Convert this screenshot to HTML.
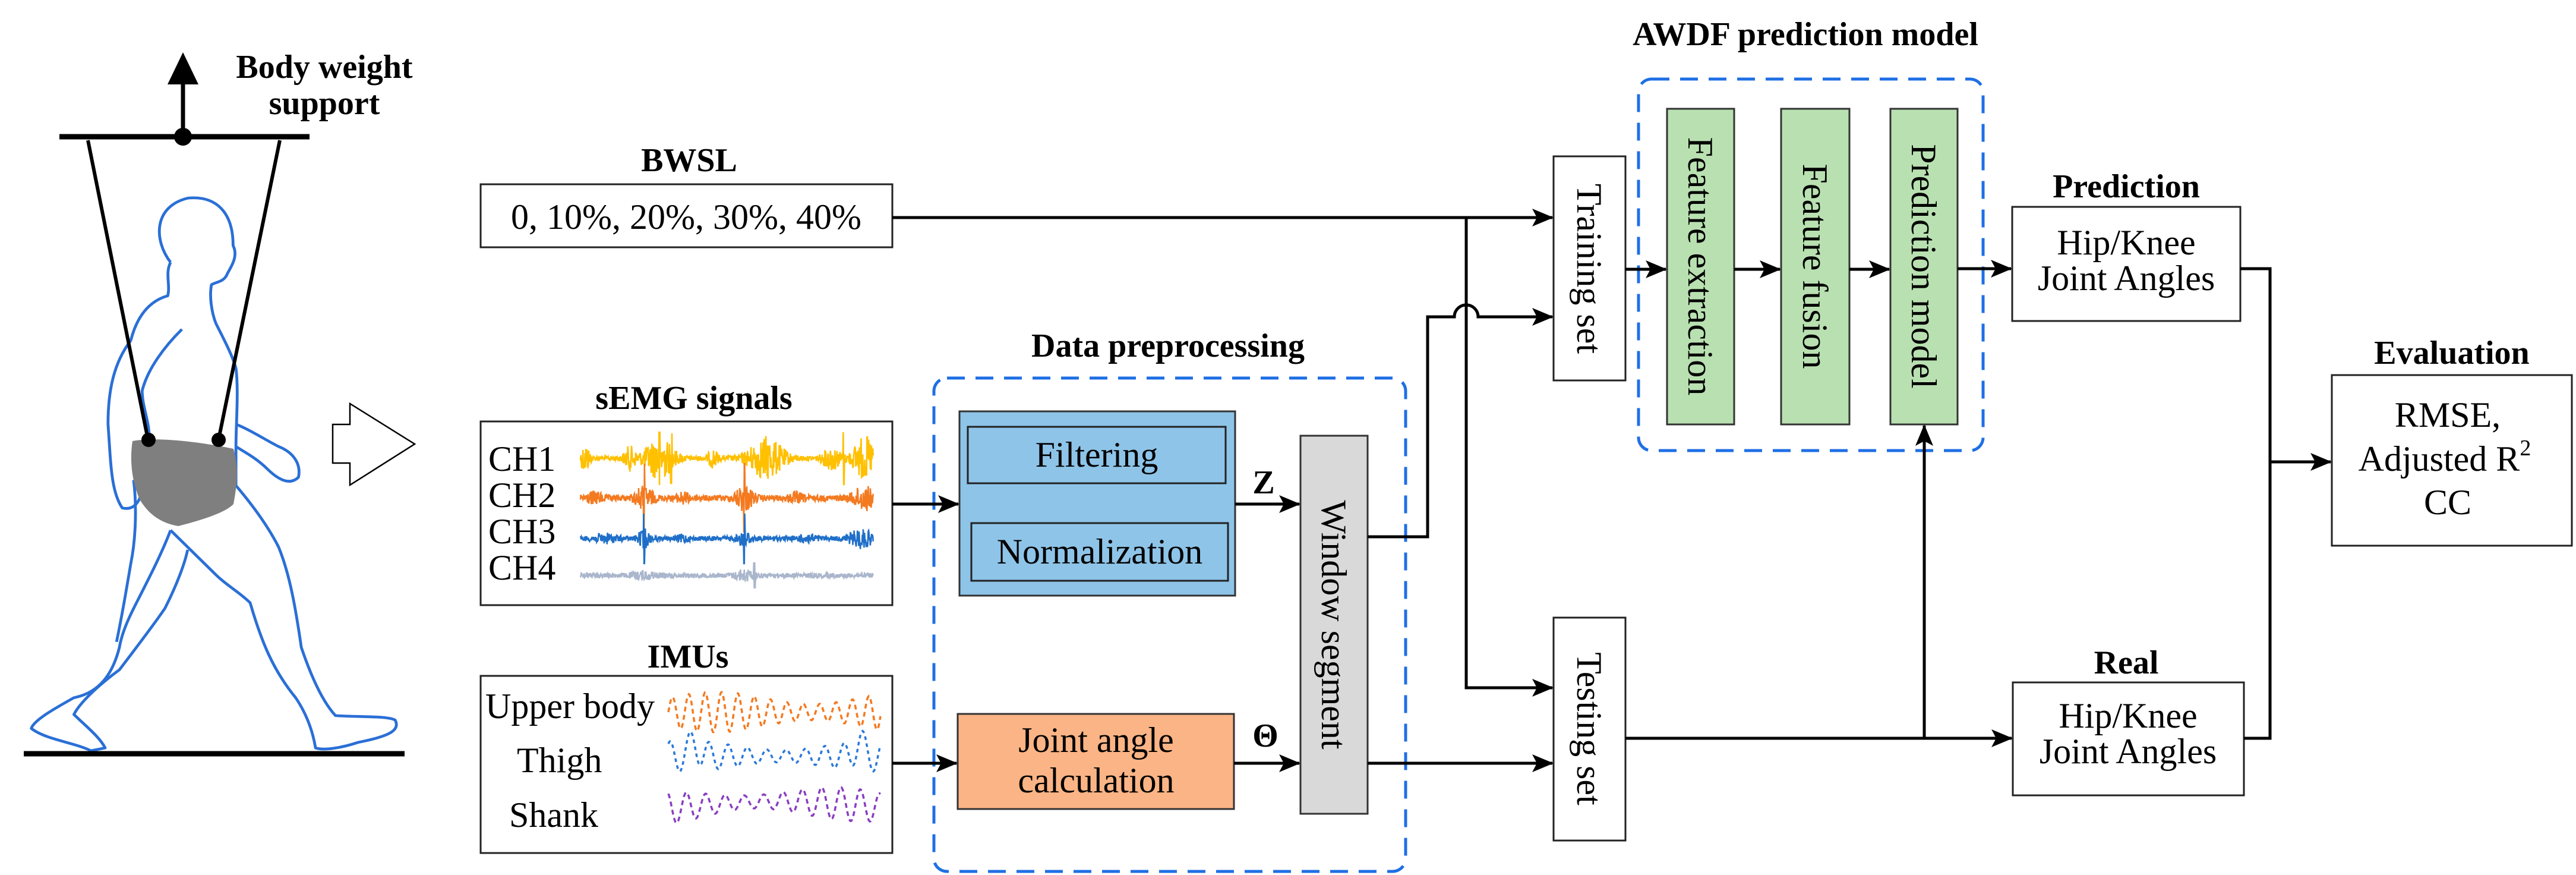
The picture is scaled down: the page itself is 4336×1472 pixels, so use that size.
<!DOCTYPE html>
<html><head><meta charset="utf-8"><style>
html,body{margin:0;padding:0;background:#fff;}
svg{display:block;}
text{font-family:"Liberation Serif","Noto Serif CJK SC","DejaVu Serif",serif;fill:#000;}
.b{font-weight:bold;font-size:56px;}
.t{font-weight:normal;font-size:60px;}
</style></head><body>
<svg id="s" width="4336" height="1472" viewBox="0 0 4336 1472" xmlns="http://www.w3.org/2000/svg">
<defs>
<marker id="a" markerUnits="userSpaceOnUse" markerWidth="36" markerHeight="30" refX="34" refY="15" orient="auto"><path d="M0,0 L36,15 L0,30 L8,15 Z" fill="#000"/></marker>
</defs>

<line x1="308" y1="230" x2="308" y2="120" stroke="#000" stroke-width="7"/>
<polygon points="308,88 282,142 334,142" fill="#000"/>
<line x1="100" y1="230" x2="521" y2="230" stroke="#000" stroke-width="9"/>
<circle cx="308" cy="230" r="15" fill="#000"/>
<text class="b" x="546" y="131" text-anchor="middle">Body weight</text>
<text class="b" x="546" y="192" text-anchor="middle">support</text>
<g transform="scale(0.957 0.939)" fill="none" stroke="#2a6fd6" stroke-width="5" stroke-linejoin="round">
<path d="M300,470 C270,430 270,370 330,355 C380,350 410,380 410,440 C420,460 405,480 400,490 C395,505 380,505 372,510 C368,530 372,560 380,580 C395,610 410,640 415,660 C420,700 415,760 415,800 L415,870 C440,900 470,940 490,980 C510,1030 520,1090 530,1160 C550,1220 570,1260 590,1282 C630,1285 680,1282 695,1290 C705,1310 680,1320 630,1330 C600,1340 570,1345 555,1340 C550,1310 540,1280 520,1250 C480,1200 460,1150 440,1080 C420,1060 400,1050 380,1030 C350,1000 320,970 300,950"/>
<path d="M415,760 C440,770 470,790 490,800 C515,810 530,830 525,855 C510,870 490,860 470,840 C450,820 430,810 415,800"/>
<path d="M300,470 C290,490 300,510 295,530 C260,540 240,570 230,610 C200,650 190,700 190,760 C195,830 195,880 215,910 C235,915 245,900 250,880"/>
<path d="M320,590 C290,620 260,660 250,700 C250,730 265,760 262,790"/>
<path d="M300,950 C285,990 265,1030 240,1080 C230,1100 215,1130 210,1160 C200,1200 180,1240 130,1250 C95,1270 60,1290 55,1305 C80,1325 130,1330 160,1345 L185,1340 C175,1320 150,1300 130,1280 C140,1260 170,1230 210,1200 C240,1160 270,1120 290,1090 C310,1050 325,1010 330,985"/>
<path d="M235,860 C240,900 240,960 230,1010 C220,1070 215,1100 205,1150"/>
</g>
<path d="M223,742 C262,735 330,742 393,755 C403,790 398,820 393,848 C380,862 340,875 300,885 C270,880 250,865 235,840 C222,810 218,775 223,742 Z" fill="#7f7f7f"/>
<line x1="148" y1="236" x2="249" y2="739" stroke="#000" stroke-width="6"/>
<line x1="471" y1="236" x2="368" y2="739" stroke="#000" stroke-width="6"/>
<circle cx="250" cy="740" r="12" fill="#000"/>
<circle cx="368" cy="740" r="12" fill="#000"/>
<line x1="40" y1="1268" x2="681" y2="1268" stroke="#000" stroke-width="9"/>
<polygon points="560,714 589,714 589,679 698,747 589,816 589,779 560,779" fill="#fff" stroke="#000" stroke-width="2.5"/>

<text class="b" x="1160" y="288" text-anchor="middle">BWSL</text>
<rect x="809" y="310" width="693" height="106" fill="#fff" stroke="#222" stroke-width="3"/>
<text class="t" x="1155" y="385" text-anchor="middle">0, 10%, 20%, 30%, 40%</text>

<text class="b" x="1168" y="688" text-anchor="middle">sEMG signals</text>
<rect x="809" y="709" width="693" height="309" fill="#fff" stroke="#222" stroke-width="3"/>
<text class="t" x="822" y="792">CH1</text>
<text class="t" x="822" y="853">CH2</text>
<text class="t" x="822" y="914">CH3</text>
<text class="t" x="822" y="975">CH4</text>
<g id="emg"></g>

<text class="b" x="1158" y="1123" text-anchor="middle">IMUs</text>
<rect x="809" y="1137" width="693" height="298" fill="#fff" stroke="#222" stroke-width="3"/>
<text class="t" x="817" y="1208">Upper body</text>
<text class="t" x="870" y="1299">Thigh</text>
<text class="t" x="857" y="1391">Shank</text>
<g id="imu"></g>

<text class="b" x="1966" y="600" text-anchor="middle">Data preprocessing</text>
<rect x="1572" y="636" width="794" height="830" rx="22" fill="none" stroke="#1f6fe5" stroke-width="5" stroke-dasharray="30 18"/>
<rect x="1615" y="692" width="464" height="310" fill="#8ec4e8" stroke="#333" stroke-width="3"/>
<rect x="1629" y="718" width="434" height="95" fill="none" stroke="#222" stroke-width="3"/>
<rect x="1635" y="880" width="432" height="97" fill="none" stroke="#222" stroke-width="3"/>
<text class="t" x="1846" y="785" text-anchor="middle">Filtering</text>
<text class="t" x="1851" y="948" text-anchor="middle">Normalization</text>
<rect x="1612" y="1201" width="465" height="160" fill="#fbb485" stroke="#333" stroke-width="3"/>
<text class="t" x="1845" y="1265" text-anchor="middle">Joint angle</text>
<text class="t" x="1845" y="1333" text-anchor="middle">calculation</text>
<rect x="2189" y="733" width="113" height="636" fill="#d9d9d9" stroke="#333" stroke-width="3"/>
<text class="t" transform="translate(2245,1051) rotate(90)" text-anchor="middle" dy="20">Window segment</text>
<text class="b" x="2127" y="830" text-anchor="middle" font-size="60">Z</text>
<text class="b" x="2130" y="1256" text-anchor="middle" font-size="58">Θ</text>

<rect x="2615" y="263" width="121" height="377" fill="#fff" stroke="#222" stroke-width="3"/>
<text class="t" transform="translate(2675,452) rotate(90)" text-anchor="middle" dy="20">Training set</text>
<rect x="2615" y="1039" width="121" height="375" fill="#fff" stroke="#222" stroke-width="3"/>
<text class="t" transform="translate(2675,1226) rotate(90)" text-anchor="middle" dy="20">Testing set</text>

<text class="b" x="3039" y="76" text-anchor="middle">AWDF prediction model</text>
<rect x="2758" y="133" width="580" height="625" rx="22" fill="none" stroke="#1f6fe5" stroke-width="5" stroke-dasharray="30 18"/>
<rect x="2806" y="183" width="113" height="531" fill="#b9e0b1" stroke="#333" stroke-width="3"/>
<text class="t" transform="translate(2862,448) rotate(90)" text-anchor="middle" dy="20">Feature extraction</text>
<rect x="2998" y="183" width="115" height="531" fill="#b9e0b1" stroke="#333" stroke-width="3"/>
<text class="t" transform="translate(3055,448) rotate(90)" text-anchor="middle" dy="20">Feature fusion</text>
<rect x="3182" y="183" width="113" height="531" fill="#b9e0b1" stroke="#333" stroke-width="3"/>
<text class="t" transform="translate(3238,448) rotate(90)" text-anchor="middle" dy="20">Prediction model</text>

<text class="b" x="3579" y="332" text-anchor="middle">Prediction</text>
<rect x="3387" y="348" width="384" height="192" fill="#fff" stroke="#222" stroke-width="3"/>
<text class="t" x="3579" y="428" text-anchor="middle">Hip/Knee</text>
<text class="t" x="3579" y="488" text-anchor="middle">Joint Angles</text>
<text class="b" x="3579" y="1133" text-anchor="middle">Real</text>
<rect x="3388" y="1148" width="389" height="190" fill="#fff" stroke="#222" stroke-width="3"/>
<text class="t" x="3582" y="1224" text-anchor="middle">Hip/Knee</text>
<text class="t" x="3582" y="1284" text-anchor="middle">Joint Angles</text>
<text class="b" x="4127" y="612" text-anchor="middle">Evaluation</text>
<rect x="3925" y="631" width="404" height="287" fill="#fff" stroke="#222" stroke-width="3"/>
<text class="t" x="4120" y="718" text-anchor="middle">RMSE,</text>
<text class="t" x="4115" y="792" text-anchor="middle">Adjusted R<tspan dy="-26" font-size="38">2</tspan></text>
<text class="t" x="4120" y="865" text-anchor="middle">CC</text>

<g fill="none" stroke="#000" stroke-width="5">
<path d="M1502,366 L2613,366" marker-end="url(#a)"/>
<path d="M2468,366 L2468,1157 L2613,1157" marker-end="url(#a)"/>
<path d="M1502,848 L1613,848" marker-end="url(#a)"/>
<path d="M1502,1284 L1610,1284" marker-end="url(#a)"/>
<path d="M2079,848 L2187,848" marker-end="url(#a)"/>
<path d="M2077,1284 L2187,1284" marker-end="url(#a)"/>
<path d="M2302,903 L2403,903 L2403,533 L2448,533 A20,20 0 0 1 2488,533 L2613,533" marker-end="url(#a)"/>
<path d="M2302,1284 L2613,1284" marker-end="url(#a)"/>
<path d="M2736,453 L2804,453" marker-end="url(#a)"/>
<path d="M2919,453 L2996,453" marker-end="url(#a)"/>
<path d="M3113,453 L3180,453" marker-end="url(#a)"/>
<path d="M3295,452 L3385,452" marker-end="url(#a)"/>
<path d="M2736,1242 L3386,1242" marker-end="url(#a)"/>
<path d="M3239,1242 L3239,716" marker-end="url(#a)"/>
<path d="M3771,452 L3821,452 L3821,1242 L3777,1242"/>
<path d="M3821,777 L3923,777" marker-end="url(#a)"/>
</g>
</svg>
<script>
(function(){
var NS="http://www.w3.org/2000/svg";
var seed=12345;function r(){seed=(seed*1103515245+12345)%2147483648;return seed/2147483648;}
function add(g,d,col,w,dash){var p=document.createElementNS(NS,"path");p.setAttribute("d",d);p.setAttribute("fill","none");p.setAttribute("stroke",col);p.setAttribute("stroke-width",w);if(dash)p.setAttribute("stroke-dasharray",dash);document.getElementById(g).appendChild(p);}
function env(x,bursts,base){var e=base;for(var i=0;i<bursts.length;i++){var b=bursts[i];var d=(x-b[0])/b[1];e+=b[2]*Math.exp(-d*d);}return e;}
function emg(y,col,base,bursts,spikes){var d="";for(var x=977;x<=1470;x+=0.7){var a=env(x,bursts,base);var v=(r()*2-1)*a;for(var k=0;k<spikes.length;k++){if(Math.abs(x-spikes[k][0])<1.2)v=spikes[k][1]*(r()>0.5?1:-1);}d+=(d?"L":"M")+x.toFixed(1)+","+(y+v).toFixed(1);}add("emg",d,col,2.5);}
emg(771,"#ffc000",4,[[985,8,22],[1060,10,18],[1110,25,34],[1200,8,14],[1290,30,34],[1400,15,18],[1455,20,34]],[[1110,45],[1130,42],[1420,44]]);
emg(838,"#f47a20",5,[[1000,15,8],[1084,15,18],[1150,10,8],[1253,15,20],[1340,12,7],[1455,20,18]],[[1084,58],[1253,58]]);
emg(906,"#1f6fc8",4,[[1020,20,6],[1084,10,14],[1150,10,5],[1253,10,14],[1360,15,6],[1450,20,14]],[[1084,42],[1253,42]]);
emg(968,"#aab6cc",4,[[1084,20,5],[1253,15,8]],[[1270,22]]);
function imu(yc,col,amp,f,ph,dash,extra){var d="";for(var x=1125;x<=1483;x+=1.5){var t=(x-1125)/358;var v=Math.sin(t*f*2*Math.PI+ph)*amp*(0.7+0.3*Math.sin(t*7+ph))+extra(t);d+=(d?"L":"M")+x.toFixed(1)+","+(yc-v).toFixed(1);}add("imu",d,col,3.5,dash);}
imu(1198,"#f47a20",34,13,0,"8 6",function(t){return 0;});
imu(1272,"#2a78d8",26,11,1,"6 6",function(t){return 22*Math.exp(-Math.pow((t-0.12)/0.03,2))+22*Math.exp(-Math.pow((t-0.9)/0.03,2));});
imu(1360,"#8a3ec0",28,11,2,"8 6",function(t){return 12*Math.sin(t*3);});
})();
</script>
</body></html>
